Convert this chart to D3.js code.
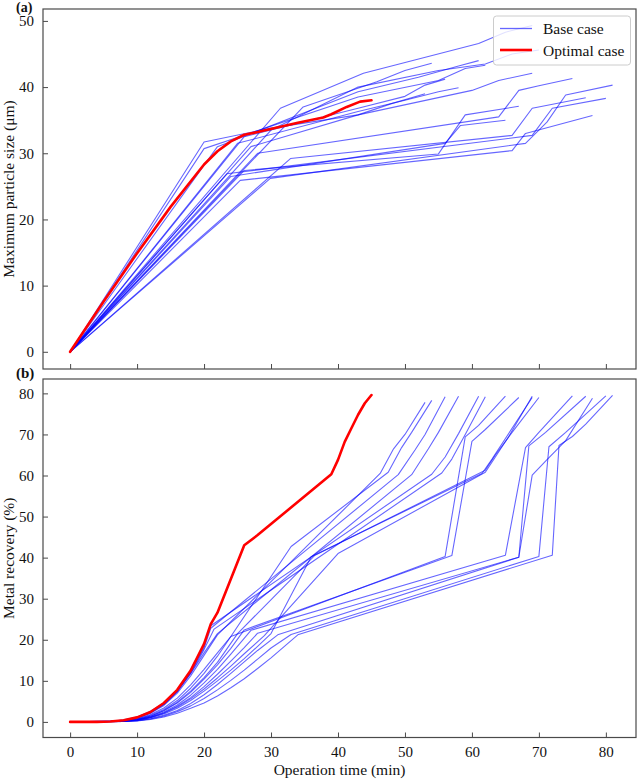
<!DOCTYPE html>
<html>
<head>
<meta charset="utf-8">
<script src="https://cdn.jsdelivr.net/npm/d3@7"></script>
<style>
  html, body { margin: 0; padding: 0; background: #ffffff; }
  svg { display: block; }
  svg text { font-family: "Liberation Serif", "Times New Roman", Times, serif !important; fill: #111; }
</style>
</head>
<body>
<svg id="chart" width="640" height="780"></svg>
<script>
// ---------------- DATA ----------------
const xTicks = [0, 10, 20, 30, 40, 50, 60, 70, 80];
const sizeTicks = [0, 10, 20, 30, 40, 50];
const recoveryTicks = [0, 10, 20, 30, 40, 50, 60, 70, 80];
const legendLabels = ["Base case", "Optimal case"];

// (a) Maximum particle size (µm) vs operation time (min) — base case runs
const sizeR53 = [[0,0],[20,31.7],[30,33.8],[43,35.8],[48,37.5],[53,39.0]];
const sizeR54 = [[0,0],[34.8,37.0],[45.8,40.8],[50,42.5],[54,43.6]];
const sizeR56 = [[0,0],[26,32.5],[43,36.8],[50,38.6],[53,40.3],[56,41.2]];
const sizeR58 = [[0,0],[25,31.5],[43,36.3],[50,38.0],[55,39.3],[58,39.9]];
const sizeR61 = [[0,0],[22,31.0],[43,39.3],[52,41.5],[58,43.2],[61,44.0]];
const sizeR62 = [[0,0],[20,30.7],[43,38.5],[55,41.0],[59,42.8],[62,43.3]];
const sizeR65 = [[0,0],[24,26.5],[56,31.5],[58.3,34.2],[65,35.0]];
const sizeR67 = [[0,0],[26,27.4],[55,29.9],[59,35.8],[67,37.1]];
const sizeR69a = [[0,0],[31.4,36.8],[43.8,42.1],[61,46.6],[65,48.3],[69,49.3]];
const sizeR69b = [[0,0],[27,31.0],[43,35.8],[60,39.5],[64,41.0],[69,42.1]];
const sizeR70 = [[0,0],[30,33.5],[43,40.0],[55,42.5],[62,43.5],[66,45.0],[70,45.6]];
const sizeR75 = [[0,0],[28,30.0],[64,35.5],[67,39.5],[70,40.2],[75,41.3]];
const sizeR77 = [[0,0],[32.9,29.2],[66,32.7],[69,36.8],[77,38.4]];
const sizeR78 = [[0,0],[25.4,25.9],[66,30.4],[68,33.0],[78,35.7]];
const sizeR80 = [[0,0],[23.4,26.9],[69,32.7],[72,36.8],[80,38.3]];
const sizeR81 = [[0,0],[29.9,26.2],[68,31.5],[71.2,34.7],[74,38.8],[81,40.3]];
const sizeOptimal = [[0,0],[5,7.6],[10,14.9],[15,21.9],[20,28.3],[22,30.3],[24,31.8],[26,32.8],[28,33.2],[31.4,34.0],[34,34.6],[37.8,35.4],[39,35.9],[41.3,37.0],[43.3,37.8],[45,38.0]];

// (b) Metal recovery (%) vs operation time (min) — base case runs
const recR53 = [[0,0],[6,0.1],[8,0.4],[10,1.0],[12,2.1],[14,4.0],[16,7.0],[18,11.2],[20,16.2],[22,21.2],[46.3,60.5],[48.3,66.5],[50,70],[53,77.8]];
const recR54 = [[0,0],[6,0.1],[8,0.3],[10,0.8],[12,1.8],[14,3.4],[16,5.8],[18,9.0],[20,12.8],[22,16.8],[24,20.8],[33,42.7],[47.5,60.8],[49.5,66.8],[51,70.5],[54,78.3]];
const recR56 = [[0,0],[6,0.1],[8,0.5],[10,1.2],[12,2.6],[14,4.6],[16,7.8],[18,12.3],[20,18.0],[21,22.8],[49,60.2],[51.5,66.2],[53,70],[56,79.2]];
const recR58 = [[0,0],[6,0.1],[8,0.4],[10,1.0],[12,2.2],[14,4.2],[16,7.4],[18,11.8],[20,16.8],[22,21.5],[51,60.2],[53.5,66.5],[55,70.5],[58,79.3]];
const recR61 = [[0,0],[6,0.1],[8,0.4],[10,1.1],[12,2.4],[14,4.4],[16,7.5],[18,12.1],[20,18.5],[21,23.4],[54,60.3],[56,64.5],[58,70.2],[61,79.3]];
const recR62 = [[0,0],[6,0.1],[8,0.4],[10,1.0],[12,2.3],[14,4.3],[16,7.4],[18,11.8],[20,17.6],[21.5,22.6],[55.5,60.6],[57,64],[59,70],[62,79.2]];
const recR65 = [[0,0],[6,0.1],[8,0.3],[10,0.7],[12,1.6],[14,3.0],[16,5.2],[18,8.2],[20,11.8],[22,16.0],[24,20.8],[56,40.3],[59,69.4],[61,72.2],[65,79.3]];
const recR67 = [[0,0],[8,0.2],[10,0.6],[12,1.4],[14,2.7],[16,4.6],[18,7.2],[20,10.4],[22,13.9],[24,17.9],[26,22.4],[57,40.5],[60,68.3],[62,71.2],[67,79.0]];
const recR69a = [[0,0],[8,0.1],[10,0.4],[12,1.0],[14,1.9],[16,3.3],[18,5.2],[20,7.5],[22,10.0],[24,12.6],[26,15.4],[28,18.4],[30,21.5],[36,40.2],[61.5,60.5],[63,64],[65,69],[69,79.0]];
const recR69b = [[0,0],[8,0.1],[10,0.5],[12,1.1],[14,2.1],[16,3.6],[18,5.6],[20,8.0],[22,10.7],[24,13.6],[26,16.6],[29,21.0],[40,41.0],[62,60.8],[63.5,64.5],[65.5,69.5],[69,79.3]];
const recR70 = [[0,0],[8,0.2],[10,0.6],[12,1.4],[14,2.8],[16,4.8],[18,7.5],[20,10.8],[22,14.5],[25,21.5],[36.5,40.5],[62,61.3],[63.5,65],[66,70.5],[70,79.0]];
const recR75 = [[0,0],[8,0.2],[10,0.5],[12,1.2],[14,2.4],[16,4.1],[18,6.5],[20,9.5],[22,12.8],[24,16.5],[27,22.3],[65,40.6],[68,66.8],[70,70.5],[75,79.4]];
const recR77 = [[0,0],[8,0.1],[10,0.3],[12,0.8],[14,1.6],[16,2.8],[18,4.5],[20,6.6],[22,9.1],[24,11.8],[26,14.6],[28,17.4],[31,21.2],[67,40.1],[68.5,67.2],[71,70.5],[77,79.3]];
const recR78 = [[0,0],[8,0.2],[10,0.5],[12,1.1],[14,2.2],[16,3.8],[18,5.9],[20,8.6],[22,11.6],[24,14.8],[26,18.1],[28,21.6],[67,40.1],[69,60.1],[71,63.5],[74,68.5],[78,78.8]];
const recR80 = [[0,0],[8,0.1],[10,0.3],[12,0.7],[14,1.4],[16,2.5],[18,3.9],[20,5.7],[22,7.8],[24,10.1],[26,12.6],[28,15.3],[30,18.0],[33,21.3],[70,40.3],[71.5,67],[74,70.5],[80,79.4]];
const recR81 = [[0,0],[8,0.1],[10,0.2],[12,0.6],[14,1.2],[16,2.1],[18,3.3],[20,4.6],[22,6.3],[24,8.3],[26,10.5],[28,13.0],[30,15.6],[32,18.4],[34,21.2],[72,40.6],[73,67.3],[75,69.5],[77,72.5],[81,79.5]];
const recOptimal = [[0,0],[4,0],[6,0.1],[8,0.4],[10,1.1],[12,2.4],[14,4.6],[16,7.8],[18,12.5],[20,19.0],[21,23.8],[22,26.6],[26,43.0],[28,45.5],[39,60.3],[40,63.8],[41,68.2],[42,71.5],[43,74.8],[44,77.6],[45,79.6]];

const baseSize = [sizeR53,sizeR54,sizeR56,sizeR58,sizeR61,sizeR62,sizeR65,sizeR67,sizeR69a,sizeR69b,sizeR70,sizeR75,sizeR77,sizeR78,sizeR80,sizeR81];
const baseRecovery = [recR53,recR54,recR56,recR58,recR61,recR62,recR65,recR67,recR69a,recR69b,recR70,recR75,recR77,recR78,recR80,recR81];

// ---------------- DRAW ----------------
const svg = d3.select("#chart");
const FRAME = "#4a4a4a";
const BLUE = "#0000ff";
const RED = "#ff0000";
const SERIF = '"Liberation Serif", "Times New Roman", Times, serif';

const x = d3.scaleLinear().domain([-4.05, 84.5]).range([43, 636]);
const yA = d3.scaleLinear().domain([-2.6, 51.8]).range([369, 9]);
const yB = d3.scaleLinear().domain([-3.8, 83.5]).range([737.5, 379]);

function panel(y, ticksY, baseRuns, optRun, showXLabels, clipId) {
  const [y0, y1] = y.range();
  const [x0, x1] = x.range();
  const g = svg.append("g");

  g.append("defs").append("clipPath").attr("id", clipId)
    .append("rect").attr("x", x0).attr("y", y1).attr("width", x1 - x0).attr("height", y0 - y1);

  const line = d3.line().x(d => x(d[0])).y(d => y(d[1]));
  const lines = g.append("g").attr("clip-path", `url(#${clipId})`);
  baseRuns.forEach(run => {
    lines.append("path").attr("d", line(run))
      .attr("fill", "none").attr("stroke", BLUE).attr("stroke-opacity", 0.6)
      .attr("stroke-width", 1.1).attr("stroke-linejoin", "round");
  });
  lines.append("path").attr("d", line(optRun))
    .attr("fill", "none").attr("stroke", RED).attr("stroke-width", 2.6)
    .attr("stroke-linejoin", "round").attr("stroke-linecap", "round");

  // left axis (ticks inward)
  const ya = g.append("g").attr("transform", `translate(${x0},0)`)
    .call(d3.axisLeft(y).tickValues(ticksY).tickSizeInner(-5).tickSizeOuter(0).tickPadding(9));
  ya.attr("font-family", SERIF);
  ya.select(".domain").remove();
  ya.selectAll(".tick line").attr("stroke", FRAME);
  ya.selectAll(".tick text").attr("font-size", 15).attr("fill", "#111");

  // bottom axis (ticks inward)
  const xa = g.append("g").attr("transform", `translate(0,${y0})`)
    .call(d3.axisBottom(x).tickValues(xTicks).tickSizeInner(-5).tickSizeOuter(0).tickPadding(9)
      .tickFormat(showXLabels ? d3.format("d") : () => ""));
  xa.attr("font-family", SERIF);
  xa.select(".domain").remove();
  xa.selectAll(".tick line").attr("stroke", FRAME);
  xa.selectAll(".tick text").attr("font-size", 15).attr("fill", "#111");

  // frame
  g.append("rect").attr("x", x0).attr("y", y1).attr("width", x1 - x0).attr("height", y0 - y1)
    .attr("fill", "none").attr("stroke", FRAME).attr("stroke-width", 1.2);
  return g;
}

panel(yA, sizeTicks, baseSize, sizeOptimal, false, "clipA");
panel(yB, recoveryTicks, baseRecovery, recOptimal, true, "clipB");

// panel labels
svg.append("text").attr("x", 16).attr("y", 11.5).attr("font-size", 14).attr("font-weight", "bold").text("(a)");
svg.append("text").attr("x", 16).attr("y", 377.5).attr("font-size", 15).attr("font-weight", "bold").text("(b)");

// axis titles
svg.append("text").attr("transform", `translate(14,${(yA.range()[0] + yA.range()[1]) / 2}) rotate(-90)`)
  .attr("text-anchor", "middle").attr("font-size", 15.5).text("Maximum particle size (μm)");
svg.append("text").attr("transform", `translate(14,${(yB.range()[0] + yB.range()[1]) / 2}) rotate(-90)`)
  .attr("text-anchor", "middle").attr("font-size", 15.5).text("Metal recovery (%)");
svg.append("text").attr("x", (x.range()[0] + x.range()[1]) / 2).attr("y", 775)
  .attr("text-anchor", "middle").attr("font-size", 15.5).text("Operation time (min)");

// legend
const lg = svg.append("g");
lg.append("rect").attr("x", 493.5).attr("y", 16).attr("width", 137).attr("height", 49).attr("rx", 3)
  .attr("fill", "#ffffff").attr("fill-opacity", 0.8).attr("stroke", "#cccccc").attr("stroke-width", 1);
lg.append("line").attr("x1", 500).attr("x2", 532).attr("y1", 28.5).attr("y2", 28.5)
  .attr("stroke", BLUE).attr("stroke-opacity", 0.6).attr("stroke-width", 1.3);
lg.append("line").attr("x1", 500).attr("x2", 532).attr("y1", 50).attr("y2", 50)
  .attr("stroke", RED).attr("stroke-width", 2.6);
lg.append("text").attr("x", 543).attr("y", 34).attr("font-size", 15.5).text(legendLabels[0]);
lg.append("text").attr("x", 543).attr("y", 55.5).attr("font-size", 15.5).text(legendLabels[1]);
</script>
</body>
</html>
